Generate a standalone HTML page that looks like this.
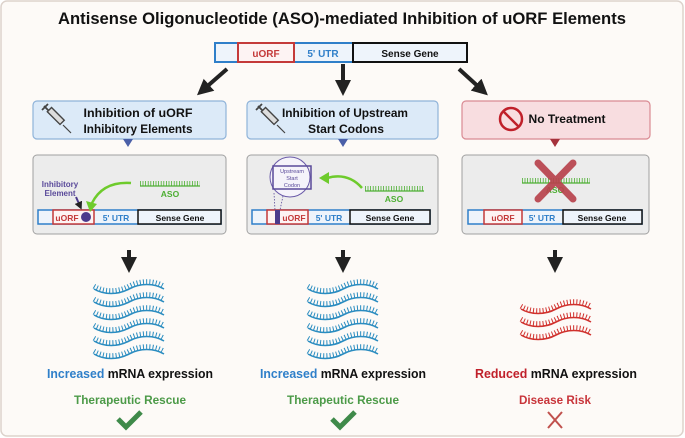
<!DOCTYPE html>
<html><head><meta charset="utf-8"><style>
html,body{margin:0;padding:0;background:#fff;}
svg{display:block;font-family:"Liberation Sans",Arial,sans-serif;}
</style></head><body>
<svg width="685" height="438" viewBox="0 0 685 438" xmlns="http://www.w3.org/2000/svg">
<defs>
<g id="wb">
 <path d="M0,0 C10,6 24,6 35,0 S60,-6 70,0" fill="none" stroke="#2a8cc0" stroke-width="1.6"/>
 <path d="M0,-2.8 C10,3.2 24,3.2 35,-2.8 S60,-8.8 70,-2.8" fill="none" stroke="#2a8cc0" stroke-width="5" stroke-dasharray="1 2.2"/>
</g>
<g id="wr">
 <path d="M0,0 C10,6 24,6 35,0 S60,-6 70,0" fill="none" stroke="#d0312d" stroke-width="1.6"/>
 <path d="M0,-2.8 C10,3.2 24,3.2 35,-2.8 S60,-8.8 70,-2.8" fill="none" stroke="#d0312d" stroke-width="5" stroke-dasharray="1 2.2"/>
</g>
<g id="syr" fill="none" stroke="#444">
 <line x1="0" y1="0" x2="6" y2="6" stroke-width="1.8"/>
 <line x1="-2" y1="4" x2="4" y2="-2" stroke-width="1.8"/>
 <rect x="4" y="2" width="18" height="6" transform="rotate(45 4 5) translate(0 -2)" fill="#ddd" stroke-width="1.4"/>
 <line x1="19" y1="19" x2="27" y2="27" stroke-width="1.2"/>
</g>
<marker id="ah" markerWidth="4" markerHeight="4" refX="2" refY="2" orient="auto" markerUnits="strokeWidth">
 <path d="M0,0 L4,2 L0,4 z" fill="#222"/>
</marker>
</defs>
<rect x="1" y="1" width="682" height="435" rx="6" fill="#fdfaf7" stroke="#ddd3cc" stroke-width="1.5"/>
<text x="342" y="24" text-anchor="middle" font-size="17" font-weight="bold" fill="#111" textLength="568" lengthAdjust="spacingAndGlyphs">Antisense Oligonucleotide (ASO)-mediated Inhibition of uORF Elements</text>

<rect x="215" y="43" width="252" height="19" fill="#eef4fb" stroke="#2f7fc9" stroke-width="2"/>
<rect x="238" y="43" width="56" height="19" fill="#fdf3f3" stroke="#c43a3a" stroke-width="2"/>
<rect x="353" y="43" width="114" height="19" fill="#eef4fb" stroke="#111" stroke-width="2"/>
<text x="266" y="57" text-anchor="middle" font-size="10" font-weight="bold" fill="#c43a3a">uORF</text>
<text x="323" y="57" text-anchor="middle" font-size="10" font-weight="bold" fill="#2f7fc9">5' UTR</text>
<text x="410" y="57" text-anchor="middle" font-size="10" font-weight="bold" fill="#111">Sense Gene</text>

<line x1="227" y1="69" x2="203" y2="90" stroke="#222" stroke-width="4" marker-end="url(#ah)"/>
<line x1="343" y1="64" x2="343" y2="88" stroke="#222" stroke-width="4" marker-end="url(#ah)"/>
<line x1="459" y1="69" x2="482" y2="90" stroke="#222" stroke-width="4" marker-end="url(#ah)"/>

<rect x="33" y="101" width="193" height="38" rx="4" fill="#dceaf8" stroke="#8fb3d9" stroke-width="1.2"/>
<rect x="247" y="101" width="191" height="38" rx="4" fill="#dceaf8" stroke="#8fb3d9" stroke-width="1.2"/>
<rect x="462" y="101" width="188" height="38" rx="4" fill="#f8dde0" stroke="#d98a93" stroke-width="1.2"/>
<use href="#syr" x="44" y="106"/>
<use href="#syr" x="258" y="106"/>
<text x="138" y="117" text-anchor="middle" font-size="12" font-weight="bold" fill="#111" textLength="109" lengthAdjust="spacingAndGlyphs">Inhibition of uORF</text>
<text x="138" y="133" text-anchor="middle" font-size="12" font-weight="bold" fill="#111" textLength="109" lengthAdjust="spacingAndGlyphs">Inhibitory Elements</text>
<text x="345" y="117" text-anchor="middle" font-size="12" font-weight="bold" fill="#111" textLength="126" lengthAdjust="spacingAndGlyphs">Inhibition of Upstream</text>
<text x="346" y="133" text-anchor="middle" font-size="12" font-weight="bold" fill="#111" textLength="76" lengthAdjust="spacingAndGlyphs">Start Codons</text>
<circle cx="511" cy="119" r="11" fill="none" stroke="#c0202a" stroke-width="2.5"/>
<line x1="503" y1="111" x2="519" y2="127" stroke="#c0202a" stroke-width="2.5"/>
<text x="567" y="123" text-anchor="middle" font-size="12" font-weight="bold" fill="#111" textLength="77" lengthAdjust="spacingAndGlyphs">No Treatment</text>
<path d="M123,139 L133,139 L128,147 z" fill="#4a5fa8"/>
<path d="M338,139 L348,139 L343,147 z" fill="#4a5fa8"/>
<path d="M550,139 L560,139 L555,147 z" fill="#a5323c"/>

<rect x="33" y="155" width="193" height="79" rx="4" fill="#ececec" stroke="#a0a0a0" stroke-width="1"/>
<rect x="247" y="155" width="191" height="79" rx="4" fill="#ececec" stroke="#a0a0a0" stroke-width="1"/>
<rect x="462" y="155" width="187" height="79" rx="4" fill="#ececec" stroke="#a0a0a0" stroke-width="1"/>

<rect x="38" y="210" width="183" height="14" fill="#eef4fb" stroke="#2f7fc9" stroke-width="1.5"/>
<rect x="53" y="210" width="41" height="14" fill="#fdf3f3" stroke="#c43a3a" stroke-width="1.5"/>
<rect x="138" y="210" width="83" height="14" fill="#eef4fb" stroke="#111" stroke-width="1.5"/>
<text x="67" y="221" text-anchor="middle" font-size="8.5" font-weight="bold" fill="#c43a3a">uORF</text>
<circle cx="86" cy="217" r="5" fill="#4b3a8c"/>
<text x="116" y="221" text-anchor="middle" font-size="8.5" font-weight="bold" fill="#2f7fc9">5' UTR</text>
<text x="180" y="221" text-anchor="middle" font-size="8.5" font-weight="bold" fill="#111">Sense Gene</text>
<path d="M140,186 h60" stroke="#4caf32" stroke-width="1.2"/>
<path d="M140,186 h60" stroke="#4caf32" stroke-width="5" stroke-dasharray="0.8 1.8" transform="translate(0,-2.5)"/>
<text x="170" y="197" text-anchor="middle" font-size="8.5" font-weight="bold" fill="#4caf32">ASO</text>
<text x="60" y="187" text-anchor="middle" font-size="8" font-weight="bold" fill="#5a4a9a">Inhibitory</text>
<text x="60" y="196" text-anchor="middle" font-size="8" font-weight="bold" fill="#5a4a9a">Element</text>
<path d="M76,197 L80,206" stroke="#4b3a8c" stroke-width="2" marker-end="url(#ah)"/>
<path d="M131,183 Q103,181 92,203" fill="none" stroke="#6ecb2c" stroke-width="2.5"/>
<path d="M86,201 L97,204 L90,212 z" fill="#6ecb2c"/>

<rect x="252" y="210" width="178" height="14" fill="#eef4fb" stroke="#2f7fc9" stroke-width="1.5"/>
<rect x="267" y="210" width="41" height="14" fill="#fdf3f3" stroke="#c43a3a" stroke-width="1.5"/>
<rect x="350" y="210" width="80" height="14" fill="#eef4fb" stroke="#111" stroke-width="1.5"/>
<rect x="275" y="210" width="5" height="14" fill="#4b3a8c"/>
<text x="294" y="221" text-anchor="middle" font-size="8.5" font-weight="bold" fill="#c43a3a">uORF</text>
<text x="329" y="221" text-anchor="middle" font-size="8.5" font-weight="bold" fill="#2f7fc9">5' UTR</text>
<text x="390" y="221" text-anchor="middle" font-size="8.5" font-weight="bold" fill="#111">Sense Gene</text>
<circle cx="290" cy="177" r="20" fill="#f5f3fa" stroke="#6a5aa8" stroke-width="1"/>
<rect x="273" y="166" width="38" height="23" fill="none" stroke="#5a4a9a" stroke-width="1.5"/>
<text x="292" y="173" text-anchor="middle" font-size="5.5" fill="#5a4a9a">Upstream</text>
<text x="292" y="180" text-anchor="middle" font-size="5.5" fill="#5a4a9a">Start</text>
<text x="292" y="187" text-anchor="middle" font-size="5.5" fill="#5a4a9a">Codon</text>
<path d="M274,193 L275,210 M283,196 L280,210" stroke="#5a4a9a" stroke-width="0.8" stroke-dasharray="1.5 1.5"/>
<path d="M365,191 h59" stroke="#4caf32" stroke-width="1.2"/>
<path d="M365,191 h59" stroke="#4caf32" stroke-width="5" stroke-dasharray="0.8 1.8" transform="translate(0,-2.5)"/>
<text x="394" y="202" text-anchor="middle" font-size="8.5" font-weight="bold" fill="#4caf32">ASO</text>
<path d="M362,188 Q348,172 327,178" fill="none" stroke="#6ecb2c" stroke-width="2.5"/>
<path d="M319,178 L329,172 L329,184 z" fill="#6ecb2c"/>

<rect x="468" y="210" width="174" height="14" fill="#eef4fb" stroke="#2f7fc9" stroke-width="1.5"/>
<rect x="484" y="210" width="38" height="14" fill="#fdf3f3" stroke="#c43a3a" stroke-width="1.5"/>
<rect x="563" y="210" width="79" height="14" fill="#eef4fb" stroke="#111" stroke-width="1.5"/>
<text x="503" y="221" text-anchor="middle" font-size="8.5" font-weight="bold" fill="#c43a3a">uORF</text>
<text x="542" y="221" text-anchor="middle" font-size="8.5" font-weight="bold" fill="#2f7fc9">5' UTR</text>
<text x="602" y="221" text-anchor="middle" font-size="8.5" font-weight="bold" fill="#111">Sense Gene</text>
<path d="M522,183 h68" stroke="#4caf32" stroke-width="1.2"/>
<path d="M522,183 h68" stroke="#4caf32" stroke-width="5" stroke-dasharray="0.8 1.8" transform="translate(0,-2.5)"/>
<text x="555" y="193" text-anchor="middle" font-size="8.5" font-weight="bold" fill="#4caf32">ASO</text>
<path d="M538,163 L573,199 M573,163 L538,199" stroke="#b8434d" stroke-width="7" stroke-linecap="round" opacity="0.92"/>

<line x1="129" y1="250" x2="129" y2="265" stroke="#222" stroke-width="4" marker-end="url(#ah)"/>
<line x1="343" y1="250" x2="343" y2="265" stroke="#222" stroke-width="4" marker-end="url(#ah)"/>
<line x1="555" y1="250" x2="555" y2="265" stroke="#222" stroke-width="4" marker-end="url(#ah)"/>

<use href="#wb" x="94" y="289"/><use href="#wb" x="94" y="302"/><use href="#wb" x="94" y="315"/>
<use href="#wb" x="94" y="328"/><use href="#wb" x="94" y="341"/><use href="#wb" x="94" y="354"/>
<use href="#wb" x="308" y="289"/><use href="#wb" x="308" y="302"/><use href="#wb" x="308" y="315"/>
<use href="#wb" x="308" y="328"/><use href="#wb" x="308" y="341"/><use href="#wb" x="308" y="354"/>
<use href="#wr" x="521" y="309"/><use href="#wr" x="521" y="322"/><use href="#wr" x="521" y="335"/>

<text x="130" y="378" text-anchor="middle" font-size="13" font-weight="bold" fill="#111" textLength="166" lengthAdjust="spacingAndGlyphs"><tspan fill="#2f7fc9">Increased</tspan> mRNA expression</text>
<text x="343" y="378" text-anchor="middle" font-size="13" font-weight="bold" fill="#111" textLength="166" lengthAdjust="spacingAndGlyphs"><tspan fill="#2f7fc9">Increased</tspan> mRNA expression</text>
<text x="556" y="378" text-anchor="middle" font-size="13" font-weight="bold" fill="#111" textLength="162" lengthAdjust="spacingAndGlyphs"><tspan fill="#c0202a">Reduced</tspan> mRNA expression</text>
<text x="130" y="404" text-anchor="middle" font-size="12" font-weight="bold" fill="#4c9a48" textLength="112" lengthAdjust="spacingAndGlyphs">Therapeutic Rescue</text>
<text x="343" y="404" text-anchor="middle" font-size="12" font-weight="bold" fill="#4c9a48" textLength="112" lengthAdjust="spacingAndGlyphs">Therapeutic Rescue</text>
<text x="555" y="404" text-anchor="middle" font-size="12" font-weight="bold" fill="#c8343a" textLength="72" lengthAdjust="spacingAndGlyphs">Disease Risk</text>
<path d="M118,419 L126,427 L141,412" fill="none" stroke="#3f8a4a" stroke-width="5"/>
<path d="M332,419 L340,427 L355,412" fill="none" stroke="#3f8a4a" stroke-width="5"/>
<path d="M548,412 L562,428 M562,412 L548,428" stroke="#c0504d" stroke-width="2"/>
</svg>
</body></html>
